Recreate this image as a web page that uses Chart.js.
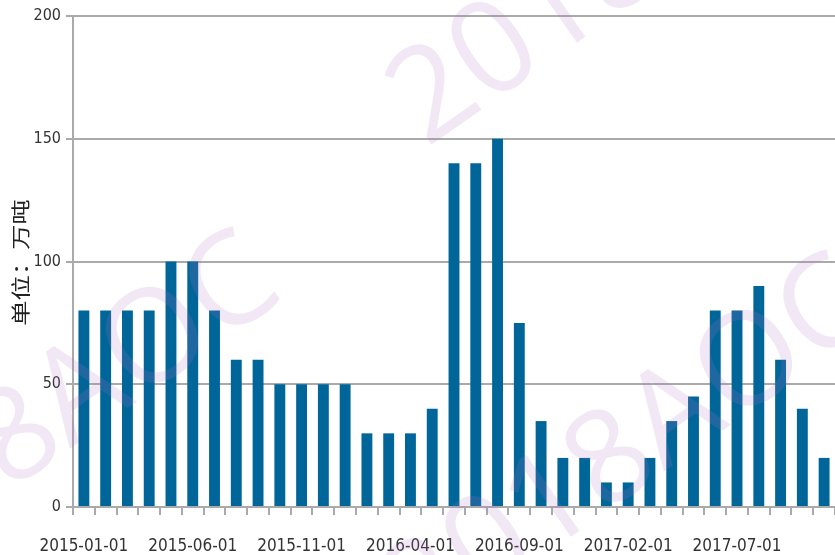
<!DOCTYPE html>
<html>
<head>
<meta charset="utf-8">
<script src="https://cdn.jsdelivr.net/npm/chart.js@4"></script>
<style>
  html, body { margin: 0; padding: 0; background: #fff; }
  #chart { display: block; }
</style>
</head>
<body>
<canvas id="chart" width="835" height="555"></canvas>
<script>
// 月份（每月一根柱）
const months = [
    '2015-01-01', '2015-02-01', '2015-03-01', '2015-04-01', '2015-05-01', '2015-06-01',
    '2015-07-01', '2015-08-01', '2015-09-01', '2015-10-01', '2015-11-01', '2015-12-01',
    '2016-01-01', '2016-02-01', '2016-03-01', '2016-04-01', '2016-05-01', '2016-06-01',
    '2016-07-01', '2016-08-01', '2016-09-01', '2016-10-01', '2016-11-01', '2016-12-01',
    '2017-01-01', '2017-02-01', '2017-03-01', '2017-04-01', '2017-05-01', '2017-06-01',
    '2017-07-01', '2017-08-01', '2017-09-01', '2017-10-01', '2017-11-01'
];

// 数值（万吨）
const values = [
    80, 80, 80, 80, 100, 100, 80, 60, 60, 50, 50, 50,
    50, 30, 30, 30, 40, 140, 140, 150, 75, 35, 20, 20,
    10, 10, 20, 35, 45, 80, 80, 90, 60, 40, 20
];

const yTicks = [0, 50, 100, 150, 200];
const yTitle = '单位：万吨';
const watermark = '2018AOC';

// 水印
const watermarkPlugin = {
    id: 'watermark',
    afterDraw(chart) {
        const ctx = chart.ctx;
        const spots = [[399, 612], [-195, 589], [405, 118], [-189, 95]];
        ctx.save();
        ctx.font = '130px "Open Sans"';
        ctx.fillStyle = 'rgba(180, 110, 190, 0.17)';
        ctx.textAlign = 'left';
        ctx.textBaseline = 'middle';
        spots.forEach(function(p) {
            ctx.save();
            ctx.translate(p[0], p[1]);
            ctx.rotate(-35 * Math.PI / 180);
            ctx.fillText(watermark, 0, 0);
            ctx.restore();
        });
        ctx.restore();
    }
};

// y轴标题，字距拉宽
const yTitlePlugin = {
    id: 'yTitle',
    afterDraw(chart) {
        const ctx = chart.ctx;
        const area = chart.chartArea;
        ctx.save();
        ctx.translate(21, (area.top + area.bottom) / 2 + 1);
        ctx.rotate(-Math.PI / 2);
        ctx.scale(1.33, 1);
        ctx.font = '19px "Noto Sans CJK SC"';
        ctx.fillStyle = '#222222';
        ctx.textAlign = 'center';
        ctx.textBaseline = 'middle';
        ctx.fillText(yTitle, 0, 0);
        ctx.restore();
    }
};

const ctx = document.getElementById('chart').getContext('2d');
new Chart(ctx, {
    type: 'bar',
    data: {
        labels: months,
        datasets: [{
            data: values,
            backgroundColor: '#00669a',
            barPercentage: 0.5,
            categoryPercentage: 1.0
        }]
    },
    options: {
        responsive: false,
        animation: false,
        layout: {
            padding: { top: 16, right: 0, bottom: 0, left: 0 }
        },
        plugins: {
            legend: { display: false },
            tooltip: { enabled: false }
        },
        scales: {
            x: {
                afterFit: function(scale) {
                    scale.height = 48;
                    scale.paddingLeft = 0;
                    scale.paddingRight = 0;
                },
                grid: {
                    offset: true,
                    drawOnChartArea: false,
                    drawTicks: true,
                    tickLength: 8,
                    color: '#aaaaaa',
                    lineWidth: 2
                },
                border: { color: '#aaaaaa', width: 2 },
                ticks: {
                    autoSkip: false,
                    maxRotation: 0,
                    minRotation: 0,
                    padding: 21,
                    color: '#333333',
                    font: { family: '"DejaVu Sans Condensed", "DejaVu Sans"', size: 17 },
                    callback: function(value, index) {
                        return index % 5 === 0 ? months[index] : '';
                    }
                }
            },
            y: {
                min: yTicks[0],
                max: yTicks[yTicks.length - 1],
                afterFit: function(scale) { scale.width = 73; },
                afterBuildTicks: function(scale) {
                    scale.ticks = yTicks.map(function(v) { return { value: v }; });
                },
                grid: {
                    color: '#aaaaaa',
                    lineWidth: 2,
                    tickLength: 7
                },
                border: { color: '#aaaaaa', width: 2 },
                ticks: {
                    padding: 5,
                    color: '#333333',
                    font: { family: '"DejaVu Sans Condensed", "DejaVu Sans"', size: 16 }
                }
            }
        }
    },
    plugins: [watermarkPlugin, yTitlePlugin]
});
</script>
</body>
</html>
